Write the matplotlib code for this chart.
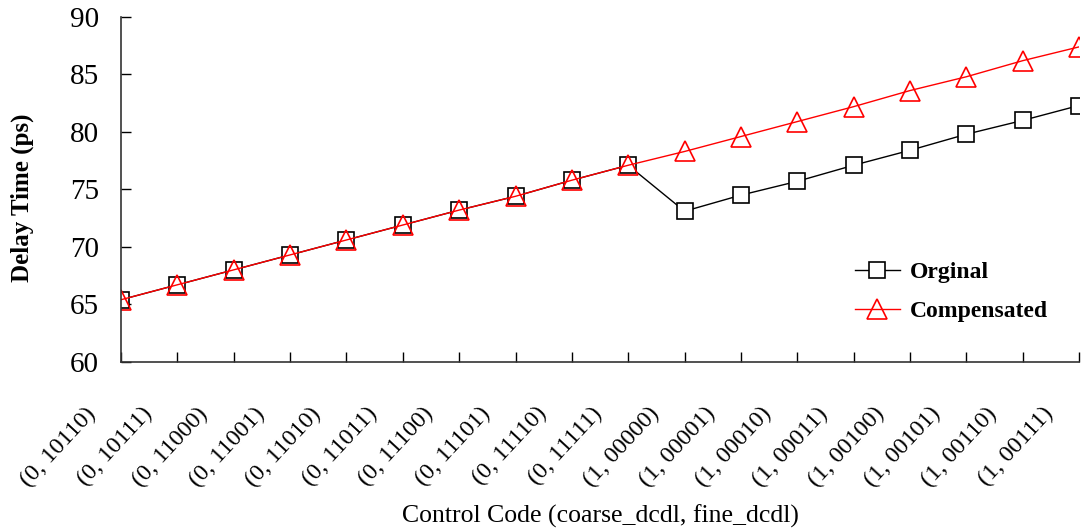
import matplotlib.pyplot as plt
from matplotlib.transforms import ScaledTranslation

plt.rcParams['font.family'] = ['Liberation Serif', 'DejaVu Serif']

# codigos de control (coarse, fine)
codes = ['(0, 10110)', '(0, 10111)', '(0, 11000)', '(0, 11001)', '(0, 11010)',
         '(0, 11011)', '(0, 11100)', '(0, 11101)', '(0, 11110)', '(0, 11111)',
         '(1, 00000)', '(1, 00001)', '(1, 00010)', '(1, 00011)', '(1, 00100)',
         '(1, 00101)', '(1, 00110)', '(1, 00111)']

original = [65.4, 66.7, 68.0, 69.3, 70.6, 71.9, 73.2, 74.4, 75.8, 77.1,
            73.1, 74.5, 75.7, 77.1, 78.4, 79.8, 81.0, 82.3]
compensated = [65.4, 66.7, 68.0, 69.3, 70.6, 71.9, 73.2, 74.4, 75.8, 77.1,
               78.3, 79.6, 80.9, 82.2, 83.6, 84.8, 86.2, 87.4]

fig = plt.figure(figsize=(10.91, 5.32), dpi=100)
ax = fig.add_axes([0.111, 0.320, 0.878, 0.648])

x = list(range(len(codes)))
ax.plot(x, original, color='black', lw=1, marker='s', ms=12,
        mfc='white', mec='black', mew=1.2, label='Orginal')
ax.plot(x, compensated, color='red', lw=1, marker='^', ms=14,
        mfc='none', mec='red', mew=1.2, label='Compensated')

ax.set_xlim(0, len(codes) - 1)
ax.set_ylim(60, 90)
ax.set_yticks([60, 65, 70, 75, 80, 85, 90])
ax.set_xticks(x)
ax.set_xticklabels(codes, rotation=47, ha='right', va='center',
                   rotation_mode='anchor')

ax.tick_params(axis='both', direction='in', length=7, width=1)
ax.tick_params(axis='x', pad=35, labelsize=17.5)
ax.tick_params(axis='y', pad=16, labelsize=21)
# correr las etiquetas a la izquierda
shift = ScaledTranslation(-29 / 100, 0, fig.dpi_scale_trans)
for lab in ax.get_xticklabels():
    lab.set_transform(lab.get_transform() + shift)

for side in ['top', 'right']:
    ax.spines[side].set_visible(False)
for side in ['left', 'bottom']:
    ax.spines[side].set_color('#333333')
    ax.spines[side].set_linewidth(1.2)

ax.set_ylabel('Delay Time (ps)', fontsize=18, fontweight='bold')
ax.yaxis.set_label_coords(-0.091, 0.475)
ax.set_xlabel('Control Code (coarse_dcdl, fine_dcdl)', fontsize=18.5)
ax.xaxis.set_label_coords(0.5, -0.414)

ax.legend(loc='center left', bbox_to_anchor=(0.766, 0.203), frameon=False,
          prop={'size': 17, 'weight': 'bold'}, handlelength=1.9,
          handletextpad=0.45, labelspacing=0.75, borderpad=0,
          borderaxespad=0)

fig.savefig('out.png', dpi=100)
